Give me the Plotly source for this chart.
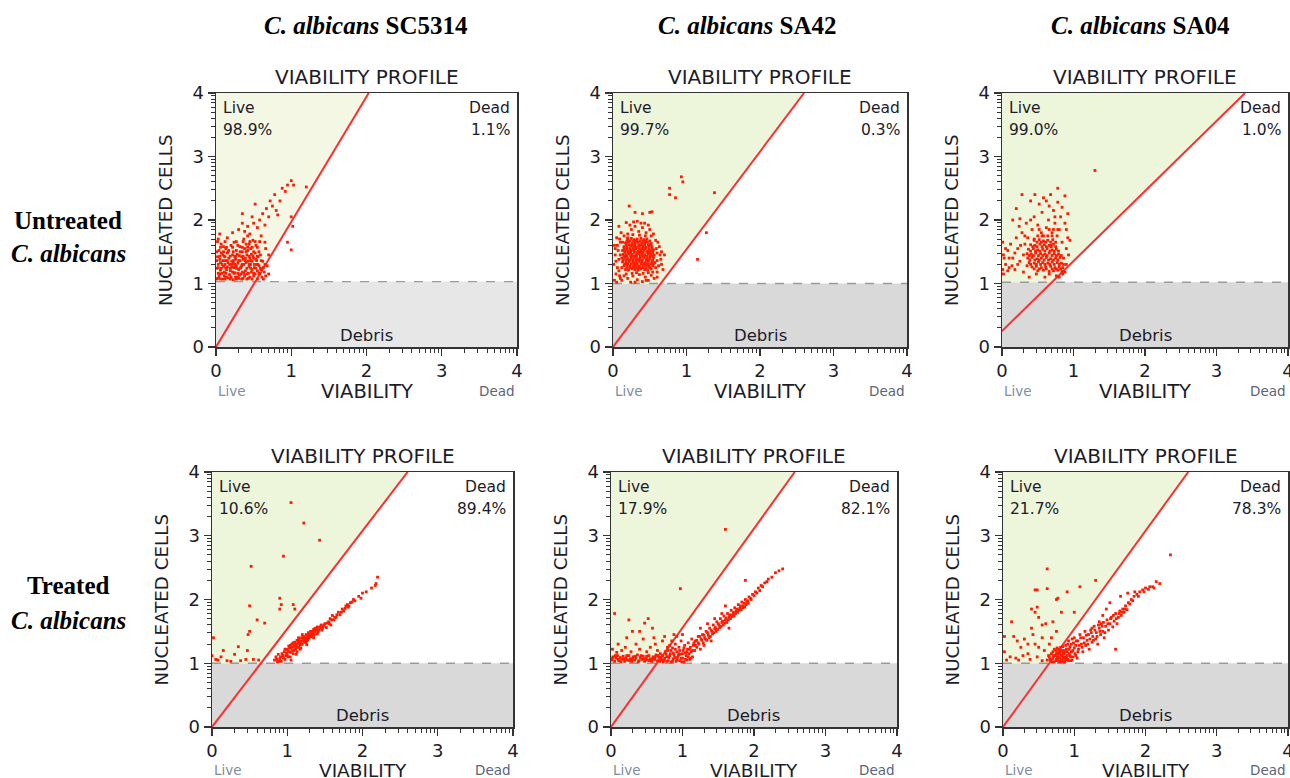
import math
import plotly.graph_objects as go

W, H = 1290, 778

# ---------------- data ----------------
strains = ["SC5314", "SA42", "SA04"]
conditions = ["Untreated", "Treated"]
live_pct = [[98.9, 99.7, 99.0], [10.6, 17.9, 21.7]]
dead_pct = [[1.1, 0.3, 1.0], [89.4, 82.1, 78.3]]
x_ticks = [0, 1, 2, 3, 4]
y_ticks = [0, 1, 2, 3, 4]
# gate line (x0, y0, x1, y1) for each panel
gate_lines = [[(0, 0, 2.03, 4), (0, 0, 2.6, 4), (0, 0.25, 3.4, 4)],
              [(0, 0, 2.6, 4), (0, 0, 2.57, 4), (0, 0, 2.6, 4)]]
debris_cut = [[1.03, 1.0, 1.02], [1.0, 1.0, 1.0]]

pts_untreated_sc5314 = [
    (0.02,1.08),(0.05,1.15),(0.03,1.25),(0.06,1.33),(0.02,1.42),(0.04,1.52),(0.07,1.62),(0.03,1.70),
    (0.09,1.07),(0.11,1.18),(0.10,1.27),(0.12,1.36),(0.09,1.45),(0.13,1.55),(0.11,1.12),(0.14,1.22),
    (0.16,1.09),(0.18,1.30),(0.17,1.40),(0.19,1.20),(0.15,1.48),(0.20,1.60),(0.18,1.14),(0.21,1.35),
    (0.23,1.06),(0.24,1.25),(0.22,1.45),(0.25,1.17),(0.26,1.38),(0.27,1.52),(0.24,1.65),(0.28,1.10),
    (0.30,1.22),(0.29,1.32),(0.31,1.44),(0.32,1.58),(0.30,1.08),(0.33,1.15),(0.34,1.28),(0.35,1.50),
    (0.36,1.38),(0.37,1.70),(0.38,1.12),(0.39,1.20),(0.40,1.33),(0.41,1.45),(0.40,1.62),(0.42,1.75),
    (0.43,1.08),(0.44,1.27),(0.45,1.40),(0.46,1.55),(0.47,1.18),(0.48,1.35),(0.49,1.68),(0.50,1.12),
    (0.51,1.25),(0.52,1.48),(0.53,1.60),(0.54,1.30),(0.55,1.20),(0.56,1.42),(0.58,1.15),(0.60,1.22),
    (0.62,1.35),(0.64,1.18),(0.66,1.12),(0.70,1.15),(0.68,1.28),
    (0.04,1.11),(0.06,1.21),(0.08,1.30),(0.05,1.38),(0.07,1.48),(0.10,1.58),(0.13,1.10),(0.12,1.42),
    (0.15,1.26),(0.16,1.33),(0.17,1.52),(0.20,1.10),(0.21,1.26),(0.22,1.18),(0.23,1.32),(0.25,1.42),
    (0.26,1.10),(0.27,1.28),(0.28,1.46),(0.29,1.60),(0.31,1.13),(0.32,1.36),(0.33,1.25),(0.34,1.42),
    (0.35,1.18),(0.36,1.08),(0.37,1.30),(0.38,1.55),(0.39,1.40),(0.41,1.15),(0.42,1.52),(0.43,1.35),
    (0.44,1.62),(0.45,1.10),(0.46,1.30),(0.47,1.46),(0.48,1.22),(0.50,1.40),(0.52,1.15),(0.53,1.38),
    (0.57,1.28),(0.59,1.45),(0.61,1.10),(0.63,1.25),
    (0.01,1.07),(0.06,1.07),(0.12,1.07),(0.19,1.07),(0.27,1.07),(0.34,1.07),(0.41,1.07),(0.48,1.07),(0.55,1.07),(0.63,1.07),
    (0.03,1.16),(0.08,1.16),(0.13,1.16),(0.24,1.16),(0.29,1.16),(0.37,1.16),(0.43,1.16),(0.50,1.16),(0.57,1.16),
    (0.01,1.24),(0.07,1.24),(0.13,1.24),(0.19,1.24),(0.27,1.24),(0.32,1.24),(0.41,1.24),(0.46,1.24),(0.53,1.24),(0.59,1.24),
    (0.03,1.30),(0.12,1.30),(0.21,1.30),(0.25,1.30),(0.35,1.30),(0.44,1.30),(0.51,1.30),(0.56,1.30),(0.65,1.30),
    (0.01,1.36),(0.09,1.36),(0.15,1.36),(0.23,1.36),(0.30,1.36),(0.39,1.36),(0.46,1.36),(0.54,1.36),(0.60,1.36),
    (0.05,1.43),(0.11,1.43),(0.19,1.43),(0.26,1.43),(0.36,1.43),(0.44,1.43),(0.49,1.43),(0.55,1.43),
    (0.01,1.50),(0.10,1.50),(0.16,1.50),(0.23,1.50),(0.32,1.50),(0.40,1.50),(0.50,1.50),(0.57,1.50),
    (0.06,1.57),(0.14,1.57),(0.22,1.57),(0.35,1.57),(0.42,1.57),(0.48,1.57),(0.55,1.57),
    (0.02,1.66),(0.12,1.66),(0.27,1.66),(0.36,1.66),(0.45,1.66),(0.52,1.66),(0.58,1.66),
    (0.05,1.78),(0.15,1.72),(0.22,1.80),(0.30,1.85),(0.35,1.95),(0.38,1.82),(0.42,1.90),(0.45,1.78),
    (0.50,1.95),(0.48,2.05),(0.55,1.88),(0.58,2.00),(0.60,1.75),(0.62,2.10),(0.65,1.92),(0.67,2.18),
    (0.70,2.05),(0.72,2.30),(0.75,2.22),(0.78,2.40),(0.80,2.15),(0.85,2.30),(0.88,2.50),(0.92,2.45),
    (0.95,2.55),(1.00,2.62),(1.03,2.55),(1.20,2.52),(0.82,2.08),(0.66,1.55),(0.70,1.45),(0.65,1.65),
    (0.95,1.65),(1.00,1.53),(1.02,1.90),(1.00,2.05),(0.35,2.10),(0.52,2.25),
]

pts_untreated_sa42 = [
    (0.17,1.22),(0.21,1.21),(0.26,1.23),(0.30,1.22),(0.34,1.21),(0.38,1.23),(0.43,1.22),(0.47,1.21),(0.52,1.23),
    (0.15,1.28),(0.19,1.29),(0.23,1.27),(0.28,1.28),(0.32,1.29),(0.36,1.27),(0.41,1.28),(0.45,1.29),(0.49,1.27),(0.54,1.28),
    (0.13,1.34),(0.18,1.33),(0.22,1.35),(0.27,1.34),(0.31,1.33),(0.35,1.35),(0.39,1.34),(0.44,1.33),(0.48,1.35),(0.53,1.34),(0.57,1.33),
    (0.12,1.40),(0.16,1.41),(0.20,1.39),(0.25,1.40),(0.29,1.41),(0.33,1.39),(0.37,1.40),(0.42,1.41),(0.46,1.39),(0.50,1.40),(0.55,1.41),
    (0.14,1.46),(0.18,1.45),(0.22,1.47),(0.26,1.46),(0.31,1.45),(0.35,1.47),(0.39,1.46),(0.43,1.45),(0.48,1.47),(0.52,1.46),(0.56,1.45),
    (0.13,1.52),(0.17,1.53),(0.21,1.51),(0.25,1.52),(0.29,1.53),(0.34,1.51),(0.38,1.52),(0.42,1.53),(0.47,1.51),(0.51,1.52),(0.55,1.53),
    (0.15,1.58),(0.19,1.57),(0.24,1.59),(0.28,1.58),(0.32,1.57),(0.36,1.59),(0.41,1.58),(0.45,1.57),(0.49,1.59),(0.53,1.58),
    (0.17,1.64),(0.21,1.65),(0.26,1.63),(0.30,1.64),(0.34,1.65),(0.39,1.63),(0.43,1.64),(0.47,1.65),(0.52,1.63),
    (0.20,1.70),(0.25,1.71),(0.29,1.69),(0.33,1.70),(0.38,1.71),(0.42,1.69),(0.46,1.70),
    (0.19,1.25),(0.23,1.25),(0.28,1.25),(0.32,1.25),(0.36,1.25),(0.41,1.25),(0.45,1.25),(0.50,1.25),
    (0.16,1.31),(0.20,1.31),(0.25,1.31),(0.29,1.31),(0.33,1.31),(0.38,1.31),(0.42,1.31),(0.47,1.31),(0.51,1.31),(0.55,1.31),
    (0.14,1.37),(0.18,1.37),(0.23,1.37),(0.27,1.37),(0.31,1.37),(0.36,1.37),(0.40,1.37),(0.45,1.37),(0.49,1.37),(0.54,1.37),
    (0.15,1.43),(0.19,1.43),(0.24,1.43),(0.28,1.43),(0.32,1.43),(0.37,1.43),(0.41,1.43),(0.46,1.43),(0.50,1.43),(0.54,1.43),
    (0.16,1.49),(0.20,1.49),(0.24,1.49),(0.29,1.49),(0.33,1.49),(0.37,1.49),(0.41,1.49),(0.46,1.49),(0.50,1.49),(0.54,1.49),
    (0.15,1.55),(0.19,1.55),(0.23,1.55),(0.27,1.55),(0.31,1.55),(0.36,1.55),(0.40,1.55),(0.44,1.55),(0.49,1.55),(0.53,1.55),
    (0.18,1.61),(0.22,1.61),(0.26,1.61),(0.30,1.61),(0.35,1.61),(0.39,1.61),(0.43,1.61),(0.48,1.61),(0.51,1.61),
    (0.19,1.67),(0.23,1.67),(0.28,1.67),(0.32,1.67),(0.37,1.67),(0.41,1.67),(0.45,1.67),(0.50,1.67),
    (0.08,1.20),(0.10,1.45),(0.06,1.60),(0.09,1.70),(0.12,1.25),(0.58,1.25),(0.60,1.36),(0.59,1.55),
    (0.61,1.65),(0.52,1.75),(0.44,1.75),(0.36,1.76),(0.27,1.77),(0.20,1.72),(0.13,1.65),(0.26,1.16),
    (0.32,1.17),(0.41,1.16),(0.48,1.17),(0.54,1.18),(0.18,1.15),(0.04,1.35),(0.03,1.55),(0.66,1.30),
    (0.64,1.45),(0.23,1.92),(0.33,1.98),(0.43,1.95),(0.05,1.02),(0.10,1.08),(0.30,1.02),(0.45,1.05),
    (0.60,1.10),
    (0.02,1.05),(0.04,1.15),(0.01,1.30),(0.03,1.45),(0.02,1.60),(0.05,1.72),(0.06,1.25),(0.08,1.38),
    (0.07,1.52),(0.09,1.12),(0.10,1.65),(0.11,1.80),(0.12,1.05),(0.15,1.12),(0.20,1.08),(0.24,1.02),
    (0.27,1.12),(0.33,1.06),(0.36,1.14),(0.40,1.03),(0.44,1.10),(0.48,1.05),(0.52,1.13),(0.56,1.08),
    (0.60,1.18),(0.62,1.28),(0.65,1.38),(0.60,1.48),(0.63,1.58),(0.58,1.68),(0.55,1.78),(0.50,1.85),
    (0.45,1.80),(0.40,1.88),(0.35,1.82),(0.30,1.90),(0.25,1.85),(0.20,1.78),(0.15,1.75),(0.28,1.97),
    (0.38,1.95),(0.48,1.92),(0.68,1.22),(0.66,1.50),(0.70,1.45),(0.08,1.90),(0.22,2.22),(0.30,2.12),
    (0.40,2.10),(0.50,2.12),(0.53,2.13),(0.18,1.96),(0.77,2.50),(0.77,2.40),(0.85,2.35),(0.93,2.68),
    (0.95,2.60),(1.38,2.43),(1.27,1.80),(1.15,1.38),
]

pts_untreated_sa04 = [
    (0.50,1.20),(0.58,1.21),(0.66,1.19),(0.72,1.20),(0.78,1.21),(0.84,1.19),
    (0.42,1.26),(0.48,1.27),(0.55,1.25),(0.61,1.26),(0.68,1.27),(0.74,1.25),(0.80,1.26),
    (0.38,1.33),(0.45,1.32),(0.51,1.34),(0.57,1.33),(0.64,1.32),(0.70,1.34),(0.77,1.33),(0.83,1.32),
    (0.36,1.40),(0.42,1.41),(0.49,1.39),(0.55,1.40),(0.62,1.41),(0.68,1.39),(0.75,1.40),(0.81,1.41),
    (0.35,1.47),(0.41,1.46),(0.47,1.48),(0.54,1.47),(0.60,1.46),(0.66,1.48),(0.73,1.47),(0.79,1.46),
    (0.37,1.54),(0.44,1.55),(0.50,1.53),(0.57,1.54),(0.63,1.55),(0.70,1.53),(0.76,1.54),
    (0.40,1.61),(0.46,1.60),(0.53,1.62),(0.59,1.61),(0.66,1.60),(0.72,1.62),
    (0.45,1.68),(0.52,1.69),(0.58,1.67),(0.64,1.68),(0.71,1.69),
    (0.45,1.23),(0.52,1.23),(0.62,1.23),(0.70,1.23),(0.76,1.23),(0.82,1.23),
    (0.40,1.30),(0.48,1.30),(0.54,1.30),(0.60,1.30),(0.67,1.30),(0.73,1.30),(0.80,1.30),(0.86,1.30),
    (0.39,1.37),(0.46,1.37),(0.52,1.37),(0.59,1.37),(0.65,1.37),(0.72,1.37),(0.78,1.37),
    (0.38,1.44),(0.44,1.44),(0.51,1.44),(0.57,1.44),(0.63,1.44),(0.70,1.44),(0.76,1.44),(0.83,1.44),
    (0.40,1.51),(0.47,1.51),(0.53,1.51),(0.60,1.51),(0.67,1.51),(0.73,1.51),(0.79,1.51),
    (0.43,1.58),(0.49,1.58),(0.56,1.58),(0.62,1.58),(0.69,1.58),(0.75,1.58),
    (0.49,1.65),(0.55,1.65),(0.61,1.65),(0.68,1.65),(0.75,1.65),
    (0.50,1.75),(0.56,1.75),(0.64,1.75),(0.70,1.75),(0.77,1.75),
    (0.52,1.85),(0.66,1.85),(0.72,1.85),(0.78,1.85),
    (0.05,1.55),(0.10,1.40),(0.18,1.48),(0.22,1.30),(0.26,1.60),(0.30,1.45),(0.14,1.28),(0.08,1.20),
    (0.32,1.75),(0.24,1.90),(0.15,2.00),(0.40,2.00),(0.46,2.40),(0.58,2.35),(0.66,2.22),(0.74,2.05),
    (0.84,2.20),(0.90,1.85),(0.93,1.45),(0.90,1.30),
    (0.02,1.15),(0.01,1.22),(0.03,1.40),(0.02,1.45),(0.01,1.65),(0.05,1.30),(0.08,1.52),(0.10,1.25),
    (0.12,1.62),(0.15,1.40),(0.18,1.22),(0.20,1.72),(0.22,1.55),(0.25,1.35),(0.28,1.80),(0.30,1.18),
    (0.32,1.62),(0.34,1.95),(0.28,2.40),(0.20,2.18),(0.25,2.02),(0.38,1.10),(0.42,1.85),(0.45,2.05),
    (0.48,1.15),(0.50,1.92),(0.52,2.25),(0.55,1.80),(0.56,2.12),(0.60,1.10),(0.62,1.88),(0.62,2.30),
    (0.65,2.00),(0.66,1.15),(0.68,2.40),(0.70,1.80),(0.72,2.15),(0.74,1.95),(0.76,1.12),(0.78,2.50),
    (0.78,2.28),(0.80,1.85),(0.82,2.05),(0.84,1.65),(0.85,1.15),(0.86,1.40),(0.88,2.38),(0.88,1.95),
    (0.90,1.55),(0.92,1.72),(0.95,1.68),(0.92,2.10),(0.85,1.25),(0.88,1.18),(0.80,1.10),(0.45,1.70),
    (0.35,1.28),(0.58,1.75),(0.68,1.60),(1.30,2.78),(0.40,2.30),(0.36,1.72),
]

pts_treated_sc5314 = [
    (0.83,1.05),(0.85,1.10),(0.87,1.02),(0.88,1.14),(0.90,1.07),(0.92,1.03),(0.94,1.12),(0.96,1.18),
    (0.97,1.06),(0.99,1.22),(1.00,1.13),(1.02,1.27),(1.03,1.18),(1.04,1.10),(1.05,1.24),(1.06,1.30),
    (1.07,1.20),(1.08,1.15),(1.09,1.26),(1.10,1.33),(1.11,1.22),(1.12,1.28),(1.13,1.18),(1.14,1.32),
    (1.15,1.25),(1.16,1.37),(1.17,1.29),(1.18,1.34),(1.19,1.40),(1.20,1.30),(1.21,1.36),(1.22,1.42),
    (1.23,1.33),(1.24,1.38),(1.25,1.45),(1.26,1.35),(1.27,1.41),(1.28,1.48),(1.29,1.39),(1.30,1.44),
    (1.31,1.50),(1.32,1.42),(1.34,1.47),(1.35,1.53),(1.36,1.45),(1.38,1.52),(1.40,1.57),(1.41,1.49),
    (1.43,1.55),(1.45,1.60),(1.46,1.52),(1.48,1.58),(1.50,1.62),(1.52,1.56),(1.55,1.65),(1.57,1.70),
    (1.58,1.60),(1.60,1.75),(1.62,1.68),(1.65,1.72),(1.68,1.80),(1.70,1.76),(1.73,1.85),(1.75,1.82),
    (1.78,1.90),(1.80,1.92),(1.82,1.90),(1.84,1.95),(1.88,2.00),(1.95,2.05),(2.00,2.10),(2.18,2.25),
    (2.20,2.35),(1.12,1.14),(1.05,1.05),(1.18,1.24),(0.98,1.12),(1.26,1.29),(1.40,1.46),(1.35,1.40),
    (1.01,1.20),(1.04,1.28),(1.07,1.25),(1.10,1.27),(1.13,1.36),(1.16,1.31),(1.19,1.35),(1.22,1.37),
    (1.25,1.40),(1.28,1.43),(1.31,1.46),(1.34,1.50),(1.37,1.55),(1.20,1.45),(1.08,1.32),(1.15,1.40),
    (0.86,1.06),(0.89,1.03),(0.91,1.10),(0.93,1.15),(0.95,1.08),(0.97,1.22),(0.99,1.16),(1.01,1.10),
    (1.03,1.24),(1.05,1.17),(1.07,1.30),(1.09,1.20),(1.11,1.30),(1.13,1.25),(1.15,1.33),(1.17,1.22),
    (1.19,1.30),(1.21,1.40),(1.23,1.38),(1.25,1.32),(1.27,1.37),(1.29,1.44),(1.31,1.42),(1.33,1.46),
    (1.35,1.44),(1.37,1.49),(1.39,1.53),(1.42,1.52),(1.44,1.57),(1.47,1.55),(1.49,1.60),(1.53,1.63),
    (1.56,1.62),(1.59,1.68),(1.63,1.72),(1.66,1.76),(1.72,1.80),(1.77,1.86),(1.81,1.88),(1.86,1.96),
    (1.90,1.98),(1.98,2.02),(2.05,2.12),(2.12,2.18),(2.17,2.22),
    (1.05,3.52),(1.22,3.20),(1.43,2.93),(0.95,2.68),(0.52,2.52),(0.90,2.02),(0.50,1.90),(0.92,1.92),
    (1.08,1.92),(0.90,1.85),(1.10,1.85),(0.60,1.68),(0.70,1.63),(0.50,1.50),(0.48,1.45),(0.02,1.40),
    (0.00,1.12),(0.15,1.20),(0.35,1.26),(0.30,1.14),(0.47,1.20),(0.08,1.05),(0.12,1.10),(0.25,1.03),
    (0.45,1.06),(0.55,1.06),(0.62,1.05),(0.05,1.06),(0.38,1.04),(0.20,1.04),
]

pts_treated_sa42 = [
    (0.01,1.05),(0.03,1.10),(0.05,1.03),(0.07,1.08),(0.09,1.12),(0.11,1.04),(0.13,1.09),(0.15,1.06),
    (0.17,1.11),(0.19,1.03),(0.21,1.08),(0.23,1.05),(0.25,1.12),(0.27,1.07),(0.29,1.03),(0.31,1.10),
    (0.33,1.05),(0.35,1.08),(0.37,1.13),(0.39,1.04),(0.41,1.09),(0.43,1.06),(0.45,1.11),(0.47,1.03),
    (0.49,1.08),(0.51,1.05),(0.53,1.12),(0.55,1.07),(0.57,1.03),(0.59,1.10),(0.61,1.06),(0.63,1.13),
    (0.65,1.04),(0.67,1.09),(0.69,1.15),(0.71,1.05),
    (0.02,1.08),(0.06,1.12),(0.10,1.06),(0.14,1.02),(0.18,1.07),(0.22,1.12),(0.26,1.04),(0.30,1.07),
    (0.34,1.11),(0.38,1.02),(0.42,1.12),(0.46,1.07),(0.50,1.11),(0.54,1.04),(0.58,1.07),(0.62,1.10),
    (0.66,1.12),(0.68,1.03),(0.70,1.09),(0.72,1.12),
    (0.05,1.78),(0.25,1.68),(0.52,1.70),(0.47,1.63),(0.30,1.50),(0.40,1.50),(0.10,1.30),(0.02,1.22),
    (0.15,1.20),(0.20,1.25),(0.35,1.30),(0.45,1.38),(0.60,1.40),(0.62,1.30),(0.72,1.35),(0.55,1.25),
    (0.40,1.22),(0.28,1.18),(0.08,1.17),(0.65,1.20),(0.50,1.18),(0.75,1.42),(0.97,2.17),(1.60,3.10),
    (0.22,1.40),(0.58,1.55),
    (0.73,1.02),(0.75,1.08),(0.77,1.14),(0.78,1.03),(0.80,1.20),(0.81,1.09),(0.83,1.15),(0.84,1.02),
    (0.86,1.24),(0.87,1.07),(0.88,1.13),(0.90,1.30),(0.91,1.03),(0.92,1.18),(0.93,1.09),(0.95,1.25),
    (0.96,1.04),(0.97,1.14),(0.98,1.35),(1.00,1.08),(1.01,1.20),(1.02,1.02),(1.03,1.28),(1.05,1.12),
    (1.06,1.05),(1.07,1.22),(1.08,1.32),(1.09,1.15),(1.10,1.06),(1.11,1.25),(1.12,1.18),(1.13,1.38),
    (1.14,1.10),(1.15,1.28),(0.85,1.35),(0.92,1.42),(0.88,1.45),(1.00,1.45),(0.82,1.28),(0.95,1.15),
    (0.79,1.25),(0.99,1.02),(1.04,1.16),
    (0.74,1.05),(0.76,1.18),(0.78,1.10),(0.80,1.04),(0.82,1.12),(0.84,1.20),(0.86,1.03),(0.87,1.16),
    (0.89,1.09),(0.90,1.22),(0.92,1.05),(0.94,1.12),(0.96,1.20),(0.98,1.08),(1.00,1.15),(1.02,1.24),
    (1.04,1.06),(1.06,1.18),(1.08,1.10),(1.10,1.22),(1.12,1.08),(1.14,1.20),(1.16,1.32),(1.18,1.28),
    (1.17,1.20),(1.18,1.35),(1.20,1.25),(1.22,1.42),(1.23,1.30),(1.25,1.22),(1.26,1.38),(1.28,1.45),
    (1.29,1.32),(1.31,1.40),(1.33,1.50),(1.34,1.36),(1.36,1.44),(1.38,1.55),(1.39,1.42),(1.41,1.50),
    (1.43,1.60),(1.44,1.48),(1.46,1.56),(1.48,1.65),(1.49,1.53),(1.51,1.60),(1.53,1.70),(1.54,1.58),
    (1.56,1.66),(1.58,1.74),(1.59,1.63),(1.61,1.71),(1.63,1.78),(1.64,1.68),(1.66,1.76),(1.68,1.83),
    (1.69,1.73),(1.71,1.80),(1.73,1.87),(1.74,1.78),(1.76,1.85),(1.78,1.92),(1.79,1.83),(1.81,1.90),
    (1.83,1.96),(1.84,1.87),(1.86,1.94),(1.88,2.00),(1.89,1.92),(1.91,1.98),(1.93,2.04),(1.95,2.02),
    (1.20,1.36),(1.22,1.32),(1.24,1.42),(1.27,1.36),(1.30,1.44),(1.32,1.38),(1.35,1.48),(1.37,1.40),
    (1.40,1.52),(1.42,1.46),(1.45,1.54),(1.47,1.50),(1.50,1.62),(1.52,1.56),(1.55,1.64),(1.57,1.60),
    (1.60,1.68),(1.62,1.64),(1.65,1.72),(1.67,1.70),(1.70,1.76),(1.72,1.74),(1.75,1.82),(1.77,1.80),
    (1.80,1.86),(1.82,1.84),(1.85,1.90),(1.87,1.88),(1.90,1.96),(1.92,1.94),(1.96,2.00),(2.00,2.06),
    (2.04,2.10),(2.08,2.14),(2.12,2.20),(2.18,2.28),(2.25,2.35),(2.35,2.45),
    (1.98,2.08),(2.02,2.12),(2.06,2.18),(2.10,2.22),(2.15,2.26),(2.20,2.32),(2.30,2.42),(2.40,2.48),
    (1.88,2.30),(1.55,1.78),(1.45,1.70),(1.25,1.55),(1.35,1.62),(1.65,1.55),(1.40,1.35),(1.30,1.28),
    (1.60,1.90),
]

pts_treated_sa04 = [
    (0.62,1.05),(0.65,1.10),(0.67,1.04),(0.68,1.15),(0.70,1.08),(0.72,1.02),(0.73,1.12),(0.74,1.20),
    (0.75,1.06),(0.77,1.14),(0.78,1.03),(0.79,1.09),(0.80,1.18),(0.81,1.25),(0.82,1.05),(0.83,1.12),
    (0.84,1.08),(0.85,1.20),(0.86,1.15),(0.87,1.03),(0.88,1.28),(0.89,1.10),(0.90,1.18),(0.91,1.06),
    (0.92,1.35),(0.93,1.22),(0.94,1.12),(0.96,1.30),(0.97,1.05),(0.98,1.20),(1.00,1.40),(1.01,1.15),
    (1.02,1.28),(1.04,1.08),(0.76,1.10),(0.80,1.02),(0.84,1.16),(0.78,1.22),(0.86,1.08),(0.70,1.18),
    (0.95,1.10),(0.99,1.32),
    (0.64,1.12),(0.66,1.06),(0.69,1.02),(0.71,1.12),(0.72,1.22),(0.74,1.04),(0.75,1.15),(0.76,1.24),
    (0.77,1.06),(0.79,1.16),(0.80,1.08),(0.81,1.13),(0.82,1.20),(0.83,1.03),(0.84,1.26),(0.85,1.10),
    (0.86,1.02),(0.87,1.18),(0.88,1.06),(0.89,1.22),(0.90,1.12),(0.91,1.30),(0.92,1.04),(0.93,1.15),
    (0.94,1.26),(0.95,1.04),(0.96,1.18),(0.97,1.38),(0.98,1.10),(1.00,1.24),(1.02,1.12),(1.03,1.35),
    (1.05,1.18),(1.07,1.28),(1.09,1.40),(1.11,1.25),(1.14,1.32),(1.17,1.44),(1.19,1.30),(1.22,1.38),
    (1.24,1.48),(1.27,1.36),(1.29,1.52),(1.32,1.42),(1.34,1.60),(1.36,1.50),(1.39,1.58),(1.41,1.64),
    (1.43,1.48),(1.47,1.62),(1.51,1.70),(1.55,1.75),(1.59,1.70),(1.63,1.78),(1.67,1.80),(1.71,1.85),
    (1.78,1.93),(1.82,1.98),(1.90,2.05),(1.98,2.12),(2.06,2.20),(2.12,2.18),
    (1.05,1.35),(1.06,1.22),(1.08,1.45),(1.10,1.30),(1.12,1.18),(1.13,1.40),(1.15,1.50),(1.16,1.28),
    (1.18,1.36),(1.20,1.45),(1.21,1.22),(1.23,1.52),(1.25,1.33),(1.26,1.42),(1.28,1.58),(1.30,1.38),
    (1.31,1.48),(1.33,1.30),(1.35,1.55),(1.37,1.45),(1.38,1.62),(1.40,1.50),(1.42,1.40),(1.44,1.58),
    (1.46,1.68),(1.48,1.52),(1.50,1.62),(1.52,1.72),(1.54,1.57),(1.56,1.66),(1.58,1.78),(1.60,1.62),
    (1.62,1.72),(1.64,1.82),(1.66,1.75),(1.68,1.85),(1.70,1.80),(1.72,1.90),(1.74,1.84),(1.76,1.95),
    (1.80,2.00),(1.84,2.05),(1.88,2.08),(1.92,2.12),(1.96,2.15),(2.00,2.18),(2.04,2.16),(2.10,2.20),
    (2.15,2.28),(2.20,2.25),(2.35,2.70),(1.58,1.22),(1.45,1.85),(1.40,1.75),(1.35,1.65),(1.65,2.05),
    (1.75,2.10),(1.85,2.12),(1.50,1.95),(1.25,1.55),
    (0.62,2.48),(0.62,2.17),(0.45,2.15),(0.48,2.15),(0.75,2.00),(0.77,2.02),(0.90,2.12),(1.08,2.20),
    (1.30,2.30),(0.40,1.85),(0.48,1.88),(0.50,1.72),(0.45,1.80),(0.12,1.65),(0.02,1.42),(0.15,1.42),
    (0.20,1.35),(0.30,1.38),(0.35,1.30),(0.25,1.25),(0.40,1.55),(0.42,1.45),(0.55,1.60),(0.60,1.62),
    (0.70,1.65),(0.82,1.80),(1.00,1.80),(0.10,1.10),(0.05,1.05),(0.18,1.08),(0.28,1.12),(0.38,1.06),
    (0.48,1.10),(0.55,1.04),(0.58,1.20),(0.50,1.25),(0.65,1.30),(0.68,1.40),(0.75,1.50),(0.55,1.40),
    (0.02,1.18),(0.35,1.15),(0.45,1.30),(0.22,1.05),
]

points = [[pts_untreated_sc5314, pts_untreated_sa42, pts_untreated_sa04],
          [pts_treated_sc5314, pts_treated_sa42, pts_treated_sa04]]

# ---------------- layout (pixel boxes of plot areas) ----------------
boxes = [[(216, 93, 517, 347), (613, 93, 907, 347), (1002, 93, 1288, 347)],
         [(212, 472, 513, 727), (611, 472, 897, 727), (1003, 472, 1288, 727)]]
live_fill = [["#f4f7e4", "#edf5db", "#edf5db"], ["#edf5db", "#edf5db", "#edf5db"]]
debris_fill = [["#e7e7e7", "#d9d9d9", "#d9d9d9"], ["#d9d9d9", "#d9d9d9", "#d9d9d9"]]

SANS = "DejaVu Sans, Verdana, sans-serif"
SERIF = "Liberation Serif, Times New Roman, serif"
TXT = "#1c1c2a"

minor_vals = [k + math.log10(m) for k in range(4) for m in range(2, 10)]

fig = go.Figure()
annotations = []


def px_x(px):
    return px / W


def px_y(py):
    return 1 - py / H


def ann(text, xp, yp, size, color=TXT, xanchor="center", family=SANS, angle=0):
    annotations.append(dict(text=text, x=px_x(xp), y=px_y(yp), xref="paper", yref="paper",
                            xanchor=xanchor, yanchor="middle", showarrow=False,
                            textangle=angle, font=dict(family=family, size=size, color=color)))


idx = 0
for r in range(2):
    for c in range(3):
        idx += 1
        xa = "x" if idx == 1 else f"x{idx}"
        ya = "y" if idx == 1 else f"y{idx}"
        x0p, y0p, x1p, y1p = boxes[r][c]
        gx0, gy0, gx1, gy1 = gate_lines[r][c]
        cut = debris_cut[r][c]
        slope = (gy1 - gy0) / (gx1 - gx0)
        x_at_cut = gx0 + (cut - gy0) / slope

        fig.add_trace(go.Scatter(x=[0, 4, 4, 0, 0], y=[0, 0, cut, cut, 0], fill="toself",
                                 fillcolor=debris_fill[r][c], mode="none", xaxis=xa, yaxis=ya,
                                 hoverinfo="skip", showlegend=False))
        fig.add_trace(go.Scatter(x=[0, x_at_cut, gx1, 0, 0], y=[cut, cut, gy1, gy1, cut], fill="toself",
                                 fillcolor=live_fill[r][c], mode="none", xaxis=xa, yaxis=ya,
                                 hoverinfo="skip", showlegend=False))
        fig.add_trace(go.Scatter(x=[0, 4], y=[cut, cut], mode="lines",
                                 line=dict(color="#9a9a9a", width=1.3, dash="dash"),
                                 xaxis=xa, yaxis=ya, hoverinfo="skip", showlegend=False))
        fig.add_trace(go.Scatter(x=[gx0, gx1], y=[gy0, gy1], mode="lines",
                                 line=dict(color="#ff2d2d", width=2),
                                 xaxis=xa, yaxis=ya, hoverinfo="skip", showlegend=False))
        pts = points[r][c]
        fig.add_trace(go.Scatter(x=[p[0] for p in pts], y=[p[1] for p in pts], mode="markers",
                                 marker=dict(symbol="square", size=2.8, color="#ff1a00", line=dict(width=0)),
                                 xaxis=xa, yaxis=ya, showlegend=False))

        axis_common = dict(range=[0, 4], showgrid=False, zeroline=False, showline=True, mirror=True,
                           linecolor="#333333", linewidth=1.5, ticks="outside", ticklen=7,
                           tickcolor="#333333", tickwidth=1.2, automargin=False,
                           ticklabeloverflow="allow",
                           tickfont=dict(family=SANS, size=18, color=TXT),
                           minor=dict(tickmode="array", tickvals=minor_vals, ticks="outside",
                                      ticklen=4, tickcolor="#333333", tickwidth=1),
                           fixedrange=True)
        fig.update_layout(**{
            ("xaxis" if idx == 1 else f"xaxis{idx}"): dict(
                axis_common, domain=[px_x(x0p), px_x(x1p)], anchor=ya,
                tickmode="array", tickvals=x_ticks, ticktext=[str(t) for t in x_ticks]),
            ("yaxis" if idx == 1 else f"yaxis{idx}"): dict(
                axis_common, domain=[px_y(y1p), px_y(y0p)], anchor=xa,
                tickmode="array", tickvals=y_ticks, ticktext=[str(t) for t in y_ticks]),
        })

        cx = (x0p + x1p) / 2
        below = 44 if r == 0 else 43
        xt_size = 19.5 if r == 0 else 18.5
        ann("VIABILITY PROFILE", cx, y0p - 16, 20)
        ann("Live", x0p + 5, y0p + 15, 15.5, xanchor="left")
        ann(f"{live_pct[r][c]:.1f}%", x0p + 5, y0p + 37, 15.5, xanchor="left")
        ann("Dead", x1p - 5, y0p + 15, 15.5, xanchor="right")
        ann(f"{dead_pct[r][c]:.1f}%", x1p - 5, y0p + 37, 15.5, xanchor="right")
        ann("Debris", cx, y1p - 12, 16.5)
        ann("NUCLEATED CELLS", x0p - 51, (y0p + y1p) / 2, 18.3, angle=-90)
        ann("VIABILITY", cx, y1p + below, xt_size)
        ann("Live", x0p + 16, y1p + below, 13.5, color="#7d8da2")
        ann("Dead", x1p - 20, y1p + below, 13.5, color="#5d6479")

col_centers = [366, 747, 1140]
for c, s in enumerate(strains):
    ann(f"<b><i>C. albicans</i> {s}</b>", col_centers[c], 25, 25, color="#000000", family=SERIF)

row_centers = [(220, 253), (585, 620)]
for r, cond in enumerate(conditions):
    ann(f"<b>{cond}</b>", 68, row_centers[r][0], 25, color="#000000", family=SERIF)
    ann("<b><i>C. albicans</i></b>", 68, row_centers[r][1], 25, color="#000000", family=SERIF)

fig.update_layout(width=W, height=H, margin=dict(l=0, r=0, t=0, b=0, autoexpand=False),
                  paper_bgcolor="white", plot_bgcolor="white", showlegend=False,
                  annotations=annotations)

fig.write_html("out.html", config={"displayModeBar": False, "staticPlot": True},
               post_script="document.body.style.margin='0';document.body.style.padding='0';"
                           "document.body.style.overflow='hidden';")
